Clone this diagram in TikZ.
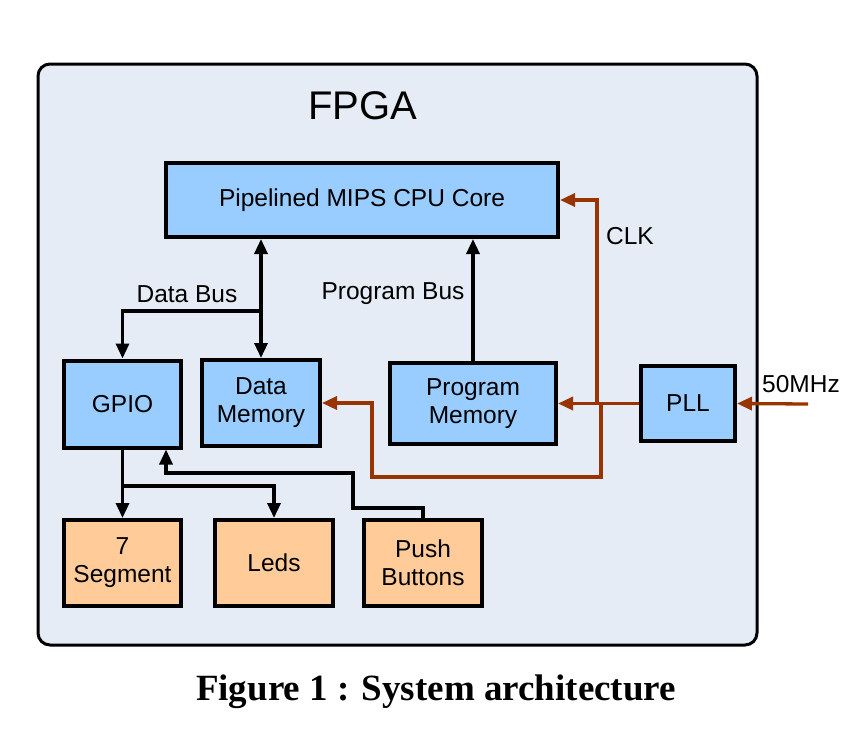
\documentclass[tikz,border=0pt]{standalone}
\usepackage{fontspec}
\setmainfont{Liberation Sans}
\newfontfamily\capfont{Liberation Serif}
\usepackage{tikz}
\usetikzlibrary{arrows.meta, positioning}
\definecolor{fpgabg}{HTML}{E6ECF6}
\definecolor{blockblue}{HTML}{99CCFF}
\definecolor{ioorange}{HTML}{FFCC99}
\definecolor{clkbrown}{HTML}{993300}

\begin{document}
\begin{tikzpicture}[x=1pt, y=-1pt,
	tip/.tip={Triangle[length=15pt,width=13pt]},
	blk/.style={draw, line width=4pt, fill=blockblue, align=center,
		font=\fontsize{24.5}{28}\selectfont, inner sep=0pt},
	iobox/.style={blk, fill=ioorange},
	bus/.style={line width=3.3pt, -tip},
	clk/.style={line width=3.3pt, draw=clkbrown, tip-},
	lbl/.style={font=\fontsize{24.5}{28}\selectfont}]
	\useasboundingbox (0,0) rectangle (862,748);
	%FPGA frame
	\draw[line width=3pt, rounded corners=12pt, fill=fpgabg] (38,64) rectangle (757,645);
	\node[font=\fontsize{40}{44}\selectfont] (fpga) at (363,106) {FPGA};
	% Blocks
	\node[blk, minimum width=392pt, minimum height=74pt] (cpu) at (362,200) {Pipelined MIPS CPU Core};
	\node[blk, minimum width=117pt, minimum height=87pt] (gpio) at (122.5,404) {GPIO};
	\node[blk, minimum width=118pt, minimum height=86pt] (dmem) at (261,403) {Data\\Memory};
	\node[blk, minimum width=166pt, minimum height=81pt] (pmem) at (473,403.5) {Program\\Memory};
	\node[blk, minimum width=94pt, minimum height=75pt] (pll) at (688,403.5) {PLL};
	% Peripherals
	\node[iobox, minimum width=117pt, minimum height=86pt] (seg) at (122.5,563) {7\\Segment};
	\node[iobox, minimum width=118pt, minimum height=86pt] (leds) at (274,563) {Leds};
	\node[iobox, minimum width=118pt, minimum height=86pt] (push) at (423,563) {Push\\Buttons};
	% Data bus
	\coordinate (dbus) at (261,311);
	\draw[bus, tip-tip] (dmem.north |- cpu.south) -- (dmem.north);
	\draw[bus] (dbus) -| (gpio.north);
	\node[lbl] (dbuslbl) at (187,294) {Data Bus};
	% Program bus
	\draw[bus] (pmem.north) -- (pmem.north |- cpu.south);
	\node[lbl] (pbuslbl) at (393,294) {Program Bus};
	% GPIO lines
	\coordinate (gsplit) at (122.5,486);
	\draw[bus] (gpio.south) -- (seg.north);
	\draw[bus] (gsplit) -| (leds.north);
	\coordinate (pbend) at (353,508);
	\coordinate (pturn) at (166,473);
	\draw[bus] (push.north) |- (pbend) |- (pturn) -- (pturn |- gpio.south);
	% Clock
	\coordinate (clkin) at (808,404);
	\coordinate (clkup) at (597,404);
	\coordinate (clkdn) at (601,404);
	\coordinate (clkloop) at (372,477);
	\draw[clk] (pll.east) -- (clkin);
	\draw[clk] (pmem.east) -- (pll.west);
	\draw[clk] (cpu.east) -| (clkup);
	\draw[clk] (dmem.east) -| (clkloop) -| (clkdn);
	\node[lbl] (clklbl) at (630,236) {CLK};
	\node[lbl] (freq) at (801,384) {50MHz};
	% Caption
	\node[font=\capfont\bfseries\fontsize{37}{40}\selectfont] (caption) at (436,692) {Figure 1 : System architecture};
\end{tikzpicture}
\end{document}
